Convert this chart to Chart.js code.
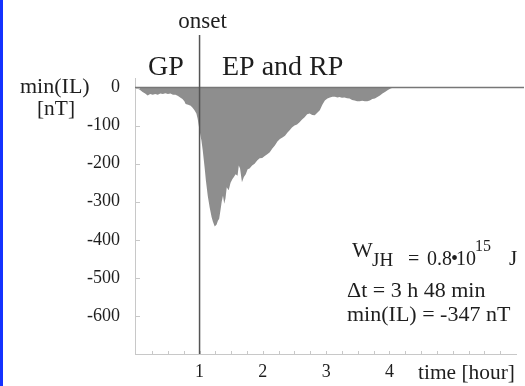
<!DOCTYPE html>
<html>
<head>
<meta charset="utf-8">
<script src="https://cdn.jsdelivr.net/npm/chart.js@4.4.0/dist/chart.umd.min.js"></script>
<style>
  html, body { margin: 0; padding: 0; background: #fff; }
  #wrap { position: relative; width: 525px; height: 386px; }
  #strip { position: absolute; left: 0; top: 0; width: 3px; height: 386px; background: #1432ff; }
</style>
</head>
<body>
<div id="wrap">
  <canvas id="chart" width="525" height="386"></canvas>
  <div id="strip"></div>
</div>
<script>
// time after start [hour] and min(IL) [nT]
const times = [0.00, 0.05, 0.10, 0.14, 0.18, 0.22, 0.26, 0.30, 0.34, 0.38, 0.42, 0.46, 0.50, 0.54, 0.58, 0.62,
  0.66, 0.70, 0.73, 0.76, 0.78, 0.82, 0.86, 0.89, 0.92, 0.95, 0.97, 1.00, 1.03, 1.05, 1.08, 1.10, 1.13, 1.16,
  1.19, 1.21, 1.24, 1.27, 1.29, 1.31, 1.33, 1.35, 1.37, 1.39, 1.41, 1.43, 1.46, 1.49, 1.52, 1.54, 1.57, 1.60,
  1.62, 1.64, 1.67, 1.70, 1.73, 1.76, 1.79, 1.83, 1.87, 1.91, 1.95, 1.99, 2.03, 2.07, 2.11, 2.15, 2.19, 2.23,
  2.27, 2.31, 2.35, 2.39, 2.42, 2.46, 2.50, 2.54, 2.58, 2.62, 2.66, 2.70, 2.74, 2.78, 2.82, 2.86, 2.90, 2.94,
  2.98, 3.02, 3.06, 3.10, 3.14, 3.18, 3.21, 3.25, 3.29, 3.33, 3.37, 3.41, 3.45, 3.49, 3.53, 3.57, 3.61, 3.65,
  3.69, 3.73, 3.77, 3.81, 3.85, 3.89, 3.93, 3.97, 4.01, 4.06];
const minIL = [-2, -5, -12, -16, -21, -17, -19, -17, -19, -16, -17, -15, -17, -16, -19, -19,
  -22, -27, -30, -36, -43, -45, -48, -53, -60, -68, -82, -113, -140, -165, -210, -244, -285, -315,
  -340, -352, -365, -360, -350, -345, -323, -300, -284, -305, -291, -262, -270, -250, -240, -236, -228, -232,
  -205, -213, -249, -235, -228, -215, -213, -205, -200, -192, -186, -185, -180, -175, -170, -160, -152, -142,
  -135, -131, -127, -118, -113, -105, -100, -97, -91, -84, -78, -70, -68, -72, -73, -66, -60, -45,
  -34, -29, -26, -24, -24, -26, -25, -27, -26, -28, -29, -33, -34, -36, -36, -35, -36, -36,
  -34, -30, -29, -25, -21, -16, -12, -7, -3, 0];

const xTickValues = [1, 2, 3, 4];
const yTickValues = [0, -100, -200, -300, -400, -500, -600];
const onsetTime = 1;

const serif = 'Liberation Serif';
const textColor = '#1e1e1e';

function font(size) { return size + 'px "' + serif + '"'; }

const decor = {
  id: 'decor',
  afterDraw(chart) {
    const ctx = chart.ctx;
    const area = chart.chartArea;
    const xs = chart.scales.x, ys = chart.scales.y;
    ctx.save();

    // small inside ticks
    ctx.strokeStyle = '#c8c8c8';
    ctx.lineWidth = 1;
    yTickValues.forEach(v => {
      const y = Math.round(ys.getPixelForValue(v)) + 0.5;
      ctx.beginPath(); ctx.moveTo(area.left, y); ctx.lineTo(area.left + 5, y); ctx.stroke();
    });
    for (let v = 0.25; v < 6; v += 0.25) {
      const x = Math.round(xs.getPixelForValue(v)) + 0.5;
      ctx.beginPath(); ctx.moveTo(x, area.bottom); ctx.lineTo(x, area.bottom - 3); ctx.stroke();
    }

    // zero line
    const y0 = ys.getPixelForValue(0);
    ctx.strokeStyle = '#777';
    ctx.lineWidth = 1.5;
    ctx.beginPath(); ctx.moveTo(area.left, y0); ctx.lineTo(524, y0); ctx.stroke();

    // onset line
    const xo = xs.getPixelForValue(onsetTime);
    ctx.strokeStyle = '#555';
    ctx.beginPath(); ctx.moveTo(xo, 35); ctx.lineTo(xo, area.bottom); ctx.stroke();

    ctx.fillStyle = textColor;
    ctx.textBaseline = 'alphabetic';
    ctx.textAlign = 'center';
    ctx.font = font(23);
    ctx.fillText('onset', xo + 3, 28);
    ctx.font = font(28);
    ctx.fillText('GP', 166, 75);
    ctx.textAlign = 'left';
    ctx.fillText('EP and RP', 222, 75, 126);

    ctx.font = font(22);
    ctx.fillText('min(IL)', 20, 93, 72);
    ctx.fillText('[nT]', 37, 115, 38);
    ctx.fillText('time [hour]', 418, 379, 97);

    // energy annotation
    ctx.font = font(22);
    ctx.fillText('W', 352, 257);
    ctx.font = font(19);
    ctx.fillText('JH', 372, 266);
    ctx.font = font(20);
    ctx.fillText('=', 408, 265);
    ctx.fillText('0.8', 427, 265);
    ctx.fillText('\u2022', 451, 265);
    ctx.fillText('10', 456, 265);
    ctx.font = font(16);
    ctx.fillText('15', 475, 251);
    ctx.font = font(21);
    ctx.fillText('J', 509, 265);
    ctx.font = font(22);
    ctx.fillText('\u0394t = 3 h 48 min', 347, 297, 146);
    ctx.fillText('min(IL) = -347 nT', 347, 321, 173);
    ctx.restore();
  }
};

new Chart(document.getElementById('chart'), {
  type: 'line',
  data: {
    datasets: [{
      data: times.map((t, i) => ({ x: t, y: minIL[i] })),
      fill: 'origin',
      backgroundColor: '#8e8e8e',
      borderWidth: 0,
      pointRadius: 0,
      tension: 0
    }]
  },
  options: {
    responsive: false,
    animation: false,
    layout: { padding: { top: 78, right: 9, left: 0, bottom: 0 } },
    plugins: { legend: { display: false }, tooltip: { enabled: false } },
    scales: {
      x: {
        type: 'linear', min: -0.02, max: 6,
        afterBuildTicks: s => { s.ticks = xTickValues.map(v => ({ value: v })); },
        afterFit: s => { s.height = 32; },
        grid: { display: false, drawTicks: false },
        border: { color: '#c8c8c8', width: 1 },
        ticks: { font: { family: serif, size: 18 }, color: textColor, padding: 7, maxRotation: 0, autoSkip: false }
      },
      y: {
        type: 'linear', min: -700, max: 25,
        afterBuildTicks: s => { s.ticks = yTickValues.map(v => ({ value: v })); },
        afterFit: s => { s.width = 135; },
        grid: { display: false, drawTicks: false },
        border: { color: '#c8c8c8', width: 1 },
        ticks: { font: { family: serif, size: 18 }, color: textColor, padding: 15, autoSkip: false }
      }
    }
  },
  plugins: [decor]
});
</script>
</body>
</html>
